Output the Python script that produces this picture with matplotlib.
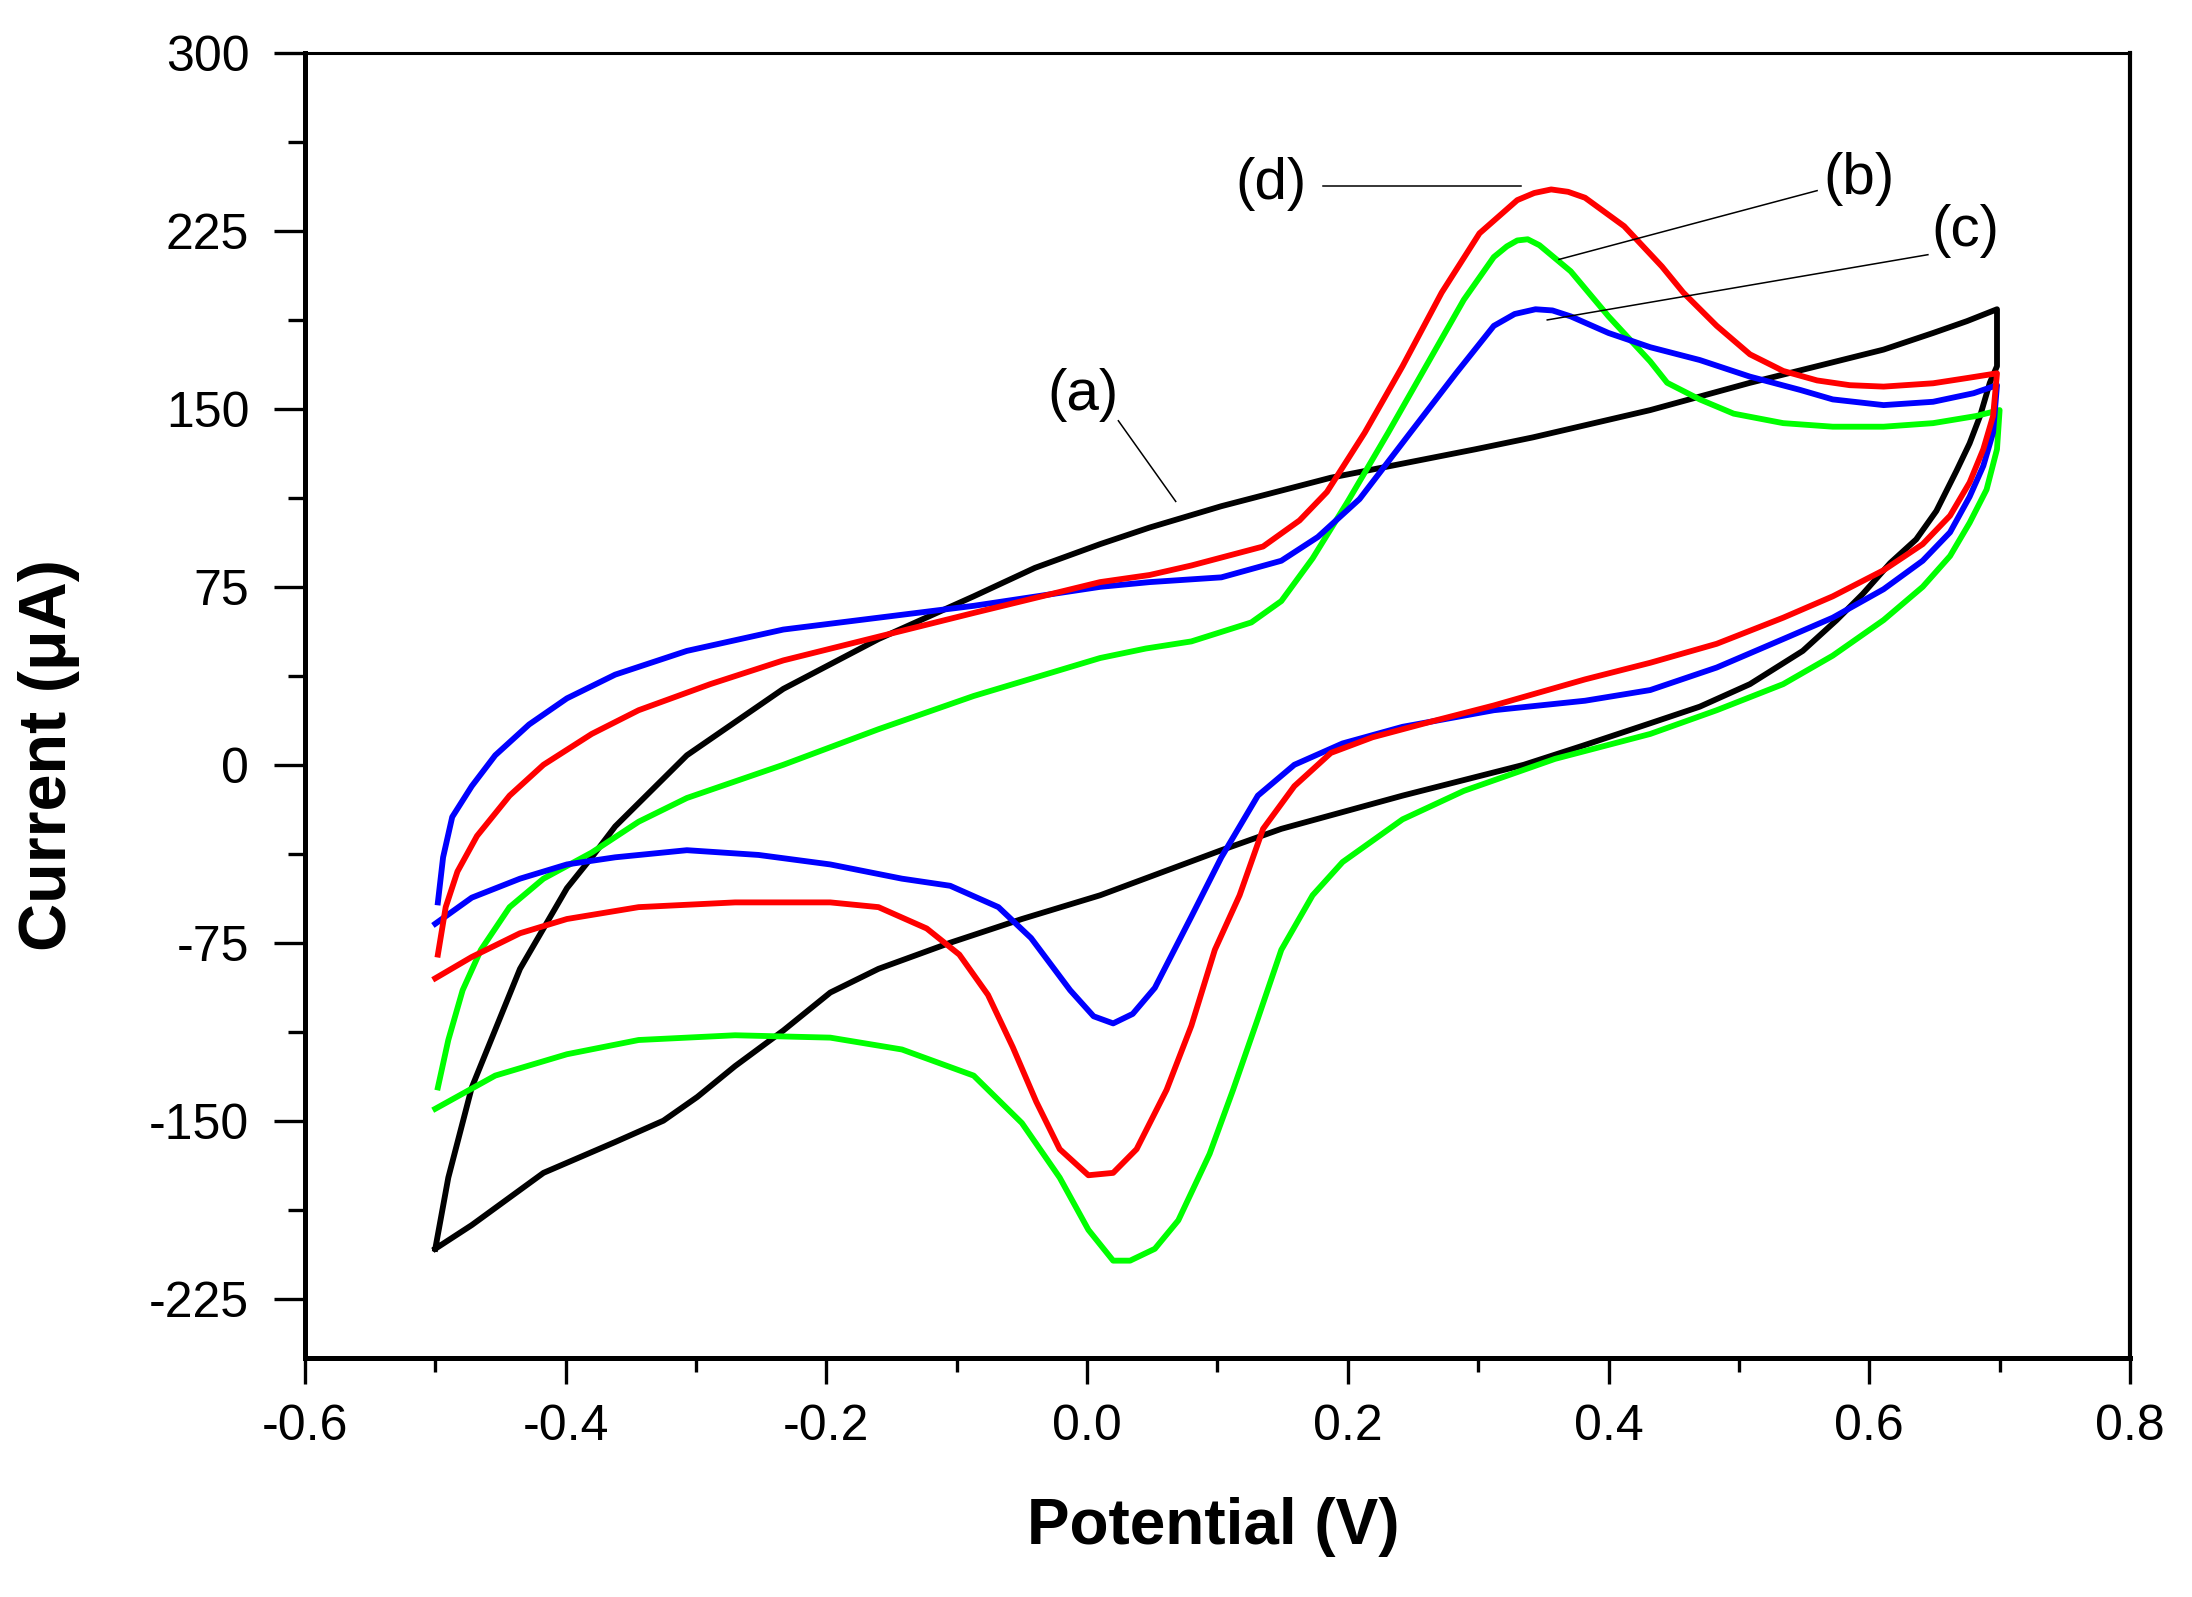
import numpy as np
import matplotlib
matplotlib.use('Agg')
import matplotlib.pyplot as plt
from matplotlib.ticker import MultipleLocator, FormatStrFormatter

plt.rcParams['font.family'] = ['Liberation Sans', 'DejaVu Sans']
plt.rcParams['axes.unicode_minus'] = False

# (a) black - forward and reverse scan
a_fx = [-0.5, -0.49, -0.472, -0.435, -0.399, -0.38, -0.362, -0.307, -0.233, -0.16, -0.087,
        -0.04, 0.01, 0.048, 0.103, 0.187, 0.298, 0.342, 0.432, 0.5085, 0.56, 0.611, 0.649,
        0.675, 0.698]
a_fy = [-204, -174, -136, -86, -52, -39, -26, 4, 32, 53, 71,
        83, 93, 100, 109, 121, 133, 138, 149.5, 161, 168, 175, 182,
        187, 192]
a_rx = [0.698, 0.698, 0.6925, 0.685, 0.677, 0.667, 0.6515, 0.636, 0.616, 0.595, 0.575, 0.549,
        0.5085, 0.47, 0.432, 0.38, 0.335, 0.242, 0.149, 0.103, 0.01, -0.05, -0.105, -0.16,
        -0.197, -0.233, -0.27, -0.299, -0.325, -0.362, -0.417, -0.472, -0.5]
a_ry = [192, 168, 161, 147, 135.5, 124, 107, 95, 85, 72, 61, 48,
        34, 24.5, 17.5, 8, 0, -13, -27, -36, -55, -65, -75, -86,
        -96, -112, -127, -140, -150, -159, -172, -194, -204]

# (b) green
b_fx = [-0.498, -0.49, -0.479, -0.465, -0.443, -0.417, -0.38, -0.344, -0.307, -0.233, -0.16,
        -0.087, 0.01, 0.045, 0.08, 0.126, 0.149, 0.173, 0.2, 0.231, 0.26, 0.289, 0.312, 0.322,
        0.33, 0.338, 0.347, 0.371, 0.4, 0.432, 0.445, 0.47, 0.496, 0.534, 0.572, 0.611, 0.649,
        0.682, 0.7]
b_fy = [-136, -116, -95, -78, -60, -48, -37, -24, -14, 0, 15,
        29, 45, 49, 52, 60, 69, 87, 111, 140, 168, 196, 214, 218.5,
        221, 221.5, 219, 208, 189, 170, 161, 154, 148, 144, 142.5, 142.5, 144,
        147, 149.5]
b_rx = [0.7, 0.698, 0.69, 0.677, 0.662, 0.641, 0.611, 0.572, 0.534, 0.483, 0.432, 0.359,
        0.289, 0.242, 0.196, 0.173, 0.149, 0.131, 0.112, 0.094, 0.07, 0.052, 0.033, 0.02,
        0.001, -0.021, -0.05, -0.087, -0.142, -0.197, -0.27, -0.344, -0.399, -0.454, -0.5]
b_ry = [149.5, 133, 116, 102, 88, 75, 61, 46, 34, 23, 13, 2.5,
        -11, -23, -41, -55, -78, -107, -137, -164, -192, -204, -209, -209,
        -196, -174, -151, -131, -120, -115, -114, -116, -122, -131, -145]

# (c) blue
c_fx = [-0.498, -0.494, -0.487, -0.472, -0.454, -0.428, -0.399, -0.362, -0.307, -0.233, -0.16,
        -0.087, 0.01, 0.048, 0.103, 0.149, 0.177, 0.209, 0.248, 0.283, 0.312, 0.328, 0.344,
        0.357, 0.371, 0.4, 0.432, 0.47, 0.5085, 0.547, 0.572, 0.611, 0.649, 0.68, 0.698]
c_fy = [-58, -39, -22, -9, 4, 17, 28, 38, 48, 57, 62,
        67, 75, 77, 79, 86, 96, 112, 140, 165, 185, 190, 192,
        191.5, 189, 182, 176, 170.6, 163.6, 158, 154, 151.6, 153, 156.6, 160]
c_rx = [0.698, 0.695, 0.6875, 0.677, 0.662, 0.641, 0.611, 0.572, 0.534, 0.483, 0.432, 0.382,
        0.312, 0.242, 0.196, 0.159, 0.131, 0.103, 0.08, 0.052, 0.035, 0.02, 0.005, -0.013,
        -0.043, -0.068, -0.105, -0.142, -0.197, -0.252, -0.307, -0.362, -0.399, -0.435,
        -0.472, -0.5]
c_ry = [160, 140, 126, 113, 98, 86, 74, 62, 53, 41, 31.5, 27,
        23, 16, 9, 0, -13, -39, -64, -94, -105, -109, -106, -95,
        -73, -60, -51, -48, -42, -38, -36, -39, -42, -48,
        -56, -67]

# (d) red
d_fx = [-0.498, -0.492, -0.483, -0.468, -0.443, -0.417, -0.38, -0.344, -0.289, -0.233, -0.16,
        -0.087, 0.01, 0.048, 0.08, 0.135, 0.163, 0.184, 0.213, 0.242, 0.272, 0.301, 0.33,
        0.343, 0.356, 0.369, 0.382, 0.412, 0.441, 0.4574, 0.483, 0.5085, 0.534, 0.56, 0.585,
        0.611, 0.649, 0.675, 0.698]
d_fy = [-80, -60, -45, -30, -13, 0, 13, 23, 34, 44, 54,
        64, 77, 80, 84, 92, 103, 115, 140, 168, 199, 224, 238,
        241, 242.5, 241.5, 239, 227, 210, 199, 185, 173, 166, 162, 160,
        159.4, 160.8, 163, 165]
d_rx = [0.698, 0.695, 0.6875, 0.677, 0.662, 0.641, 0.611, 0.572, 0.534, 0.483, 0.432, 0.382,
        0.312, 0.266, 0.219, 0.187, 0.159, 0.135, 0.117, 0.098, 0.08, 0.061, 0.038, 0.02,
        0.001, -0.021, -0.039, -0.057, -0.076, -0.098, -0.123, -0.16, -0.197, -0.27, -0.344,
        -0.399, -0.435, -0.472, -0.5]
d_ry = [165, 147, 133, 119, 105, 93, 82, 71, 62, 51, 43, 36,
        25, 18.5, 11.6, 5, -9, -27, -55, -78, -110, -137, -162, -172,
        -173, -162, -142, -119, -97, -80, -69, -60, -58, -58, -60,
        -65, -71, -81, -90]

# labels and their leader lines
lab_text = ['(a)', '(b)', '(c)', '(d)']
lab_x = [-0.003, 0.592, 0.674, 0.141]
lab_y = [156, 247, 225, 245]
lead_x0 = [0.024, 0.560, 0.645, 0.181]
lead_y0 = [145, 242, 215, 244]
lead_x1 = [0.068, 0.362, 0.353, 0.333]
lead_y1 = [111, 213, 187.5, 244]

fig = plt.figure(figsize=(21.92, 15.97), dpi=100)
ax = fig.add_axes([0.1391, 0.1497, 0.8326, 0.8171])

curves = [(a_fx, a_fy, a_rx, a_ry, 'black'),
          (b_fx, b_fy, b_rx, b_ry, '#00ff00'),
          (c_fx, c_fy, c_rx, c_ry, '#0000ff'),
          (d_fx, d_fy, d_rx, d_ry, '#ff0000')]
for fx, fy, rx, ry, col in curves:
    ax.plot(fx + rx, fy + ry, color=col, lw=4.2, solid_joinstyle='round')

for i in range(len(lab_text)):
    ax.plot([lead_x0[i], lead_x1[i]], [lead_y0[i], lead_y1[i]], color='black', lw=1.1)
    ax.text(lab_x[i], lab_y[i], lab_text[i], fontsize=42, ha='center', va='center')

ax.set_xlim(-0.6, 0.8)
ax.set_ylim(-250, 300)
ax.xaxis.set_major_locator(MultipleLocator(0.2))
ax.xaxis.set_minor_locator(MultipleLocator(0.1))
ax.yaxis.set_major_locator(MultipleLocator(75))
ax.yaxis.set_minor_locator(MultipleLocator(37.5))
ax.xaxis.set_major_formatter(FormatStrFormatter('%.1f'))
ax.yaxis.set_major_formatter(FormatStrFormatter('%d'))

ax.tick_params(axis='y', which='major', direction='out', length=22, width=2.4, pad=18, labelsize=36)
ax.tick_params(axis='y', which='minor', direction='out', length=12, width=2.4)
ax.tick_params(axis='x', which='major', direction='out', length=19, width=2.4, pad=14, labelsize=36)
ax.tick_params(axis='x', which='minor', direction='out', length=10, width=2.4)

ax.spines['left'].set_linewidth(3.6)
ax.spines['bottom'].set_linewidth(3.6)
ax.spines['right'].set_linewidth(3.0)
ax.spines['top'].set_linewidth(2.2)

fig.text(0.0224, 0.527, 'Current (μA)', rotation=90, fontsize=48, fontweight='bold',
         ha='center', va='center')
fig.text(0.5534, 0.0438, 'Potential (V)', fontsize=46, fontweight='bold',
         ha='center', va='center')

fig.savefig('out.png', dpi=100)
